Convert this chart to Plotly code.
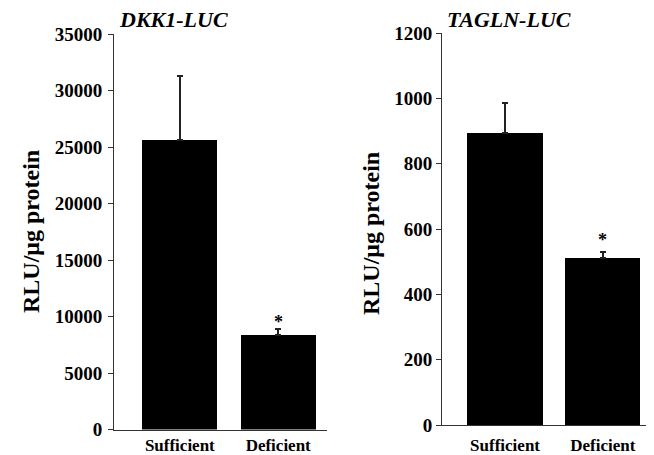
import plotly.graph_objects as go

categories = ["Sufficient", "Deficient"]
dkk1_values = [25600, 8350]
dkk1_errors = [5700, 550]
tagln_values = [895, 510]
tagln_errors = [92, 21]
dkk1_ticks = [0, 5000, 10000, 15000, 20000, 25000, 30000, 35000]
tagln_ticks = [0, 200, 400, 600, 800, 1000, 1200]
panel_titles = ["DKK1-LUC", "TAGLN-LUC"]
y_title = "RLU/μg protein"
significance = ["", "*"]

FONT = "Liberation Serif, Times New Roman, serif"
W, H = 646, 447  # page body adds an 8px offset


def px_x(v):
    return v / W


def px_y(v):
    return 1 - v / H


fig = go.Figure()

fig.add_trace(go.Bar(
    x=categories, y=dkk1_values, xaxis="x", yaxis="y",
    width=0.76, marker=dict(color="black", line=dict(width=0)),
    error_y=dict(type="data", array=dkk1_errors, symmetric=False,
                 arrayminus=[0, 0], color="#222222", thickness=2, width=3),
    showlegend=False,
))
fig.add_trace(go.Bar(
    x=categories, y=tagln_values, xaxis="x2", yaxis="y2",
    width=0.77, marker=dict(color="black", line=dict(width=0)),
    error_y=dict(type="data", array=tagln_errors, symmetric=False,
                 arrayminus=[0, 0], color="#222222", thickness=2, width=3),
    showlegend=False,
))

axis_common = dict(showgrid=False, zeroline=False, showline=True, automargin=False,
                   linecolor="#333333", linewidth=1)

fig.update_layout(
    template="none",
    width=W, height=H,
    margin=dict(l=0, r=0, t=0, b=0, pad=0),
    plot_bgcolor="white", paper_bgcolor="white",
    bargap=0,
    font=dict(family=FONT, color="black"),
    xaxis=dict(domain=[px_x(106), px_x(319)], range=[-0.669, 1.496], anchor="y",
               ticks="", ticklabelstandoff=0,
               tickfont=dict(family=FONT, size=17, weight="bold", color="black"),
               **axis_common),
    yaxis=dict(domain=[px_y(421.5), px_y(26)], range=[0, 35000], anchor="x",
               tickmode="array", tickvals=dkk1_ticks,
               ticktext=[str(v) for v in dkk1_ticks],
               ticks="outside", ticklen=5, tickcolor="#333333", ticklabelstandoff=2,
               tickfont=dict(family=FONT, size=19, weight="bold", color="black"),
               **axis_common),
    xaxis2=dict(domain=[px_x(434), px_x(643.7)], range=[-0.645, 1.50], anchor="y2",
                ticks="", ticklabelstandoff=5,
                tickfont=dict(family=FONT, size=17, weight="bold", color="black"),
                **axis_common),
    yaxis2=dict(domain=[px_y(417), px_y(25)], range=[0, 1200], anchor="x2",
                tickmode="array", tickvals=tagln_ticks,
                ticktext=[str(v) for v in tagln_ticks],
                ticks="outside", ticklen=5, tickcolor="#333333",
                tickfont=dict(family=FONT, size=19, weight="bold", color="black"),
                **axis_common),
)

annotations = []
# panel titles
annotations.append(dict(text="<b><i>%s</i></b>" % panel_titles[0], xref="paper", yref="paper",
                        x=px_x(165.5), y=px_y(11), xanchor="center", yanchor="middle",
                        showarrow=False, font=dict(family=FONT, size=22, color="black")))
annotations.append(dict(text="<b><i>%s</i></b>" % panel_titles[1], xref="paper", yref="paper",
                        x=px_x(501), y=px_y(11), xanchor="center", yanchor="middle",
                        showarrow=False, font=dict(family=FONT, size=22, color="black")))
# y titles
annotations.append(dict(text="<b>%s</b>" % y_title, xref="paper", yref="paper",
                        x=px_x(23), y=px_y(224), xanchor="center", yanchor="middle",
                        textangle=-90, showarrow=False,
                        font=dict(family=FONT, size=24, color="black")))
annotations.append(dict(text="<b>%s</b>" % y_title, xref="paper", yref="paper",
                        x=px_x(363), y=px_y(226), xanchor="center", yanchor="middle",
                        textangle=-90, showarrow=False,
                        font=dict(family=FONT, size=24, color="black")))
# significance markers
for i, s in enumerate(significance):
    if s:
        annotations.append(dict(text="<b>%s</b>" % s, x=categories[i],
                                y=dkk1_values[i] + dkk1_errors[i], xref="x", yref="y",
                                xanchor="center", yanchor="bottom", yshift=-5,
                                showarrow=False, font=dict(family=FONT, size=18, color="black")))
        annotations.append(dict(text="<b>%s</b>" % s, x=categories[i],
                                y=tagln_values[i] + tagln_errors[i], xref="x2", yref="y2",
                                xanchor="center", yanchor="bottom", yshift=0,
                                showarrow=False, font=dict(family=FONT, size=18, color="black")))

fig.update_layout(annotations=annotations)

fig.write_html("out.html")
